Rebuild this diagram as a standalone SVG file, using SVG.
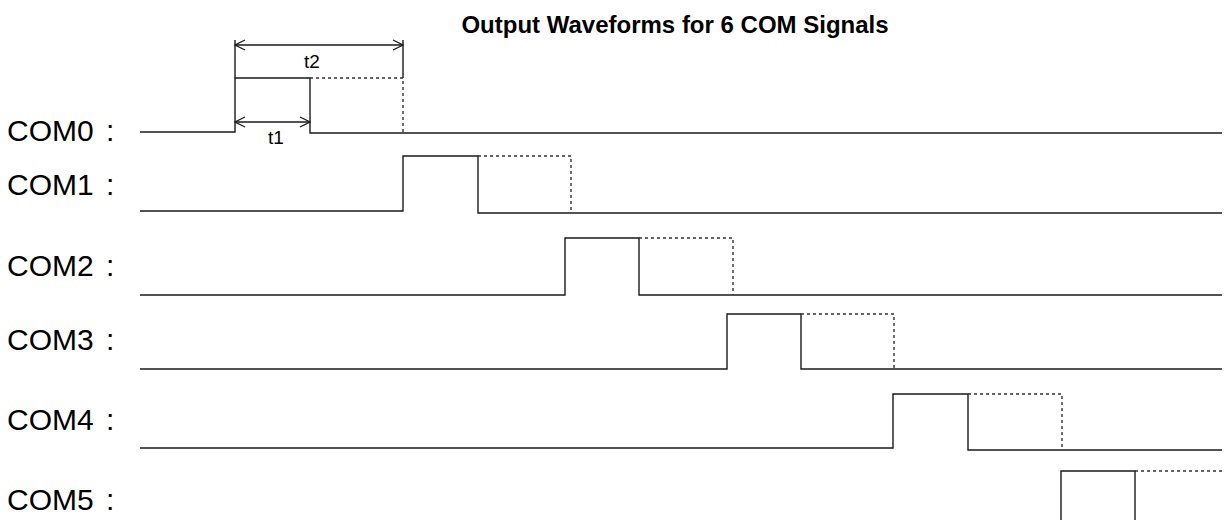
<svg xmlns="http://www.w3.org/2000/svg" width="1224" height="520" viewBox="0 0 1224 520">
<defs>
<style>
.w{fill:none;stroke:#1a1a1a;stroke-width:1.4}
.d{fill:none;stroke:#333;stroke-width:1.4;stroke-dasharray:3 3}
.lbl{font-family:"Liberation Sans",Arial,sans-serif;font-size:30px;word-spacing:4px;fill:#000}
.sm{font-family:"Liberation Sans",Arial,sans-serif;font-size:19px;fill:#000;text-anchor:middle}
.title{font-family:"Liberation Sans",Arial,sans-serif;font-size:24px;font-weight:bold;fill:#000;text-anchor:middle}
</style>
<marker id="ah" viewBox="0 0 12 12" refX="11" refY="6" markerWidth="12" markerHeight="12" markerUnits="userSpaceOnUse" orient="auto-start-reverse">
<polyline points="1,1 11,6 1,11" fill="none" stroke="#1a1a1a" stroke-width="1.3"/>
</marker>
</defs>
<rect width="1224" height="520" fill="#fff"/>
<text class="title" x="675" y="33">Output Waveforms for 6 COM Signals</text>
<g id="com0">
<text class="lbl" x="7" y="141">COM0 :</text>
<polyline class="w" points="140,132 235,132 235,78 310,78 310,133 1222,133"/>
<polyline class="d" points="310,78 403,78 403,133"/>
</g>
<g id="com1">
<text class="lbl" x="7" y="195">COM1 :</text>
<polyline class="w" points="140,211 403,211 403,156 478,156 478,213 1222,213"/>
<polyline class="d" points="478,156 571,156 571,213"/>
</g>
<g id="com2">
<text class="lbl" x="7" y="276">COM2 :</text>
<polyline class="w" points="140,295 565,295 565,238 639,238 639,295 1222,295"/>
<polyline class="d" points="639,238 733,238 733,295"/>
</g>
<g id="com3">
<text class="lbl" x="7" y="350">COM3 :</text>
<polyline class="w" points="140,369 727,369 727,314 801,314 801,369 1222,369"/>
<polyline class="d" points="801,314 894,314 894,369"/>
</g>
<g id="com4">
<text class="lbl" x="7" y="430">COM4 :</text>
<polyline class="w" points="140,448 893,448 893,394 968,394 968,450 1222,450"/>
<polyline class="d" points="968,394 1062,394 1062,450"/>
</g>
<g id="com5">
<text class="lbl" x="7" y="510">COM5 :</text>
<polyline class="w" points="1061,521 1061,471 1135,471 1135,521"/>
<polyline class="d" points="1135,471 1224,471"/>
</g>
<g id="connectors">
<line class="w" x1="235" y1="40" x2="235" y2="78"/>
<line class="w" x1="403" y1="40" x2="403" y2="78"/>
<line class="w" x1="235" y1="45" x2="403" y2="45" marker-start="url(#ah)" marker-end="url(#ah)"/>
<line class="w" x1="235" y1="122" x2="310" y2="122" marker-start="url(#ah)" marker-end="url(#ah)"/>
</g>
<g id="dim-labels">
<text class="sm" x="312" y="68">t2</text>
<text class="sm" x="276" y="144">t1</text>
</g>
</svg>
